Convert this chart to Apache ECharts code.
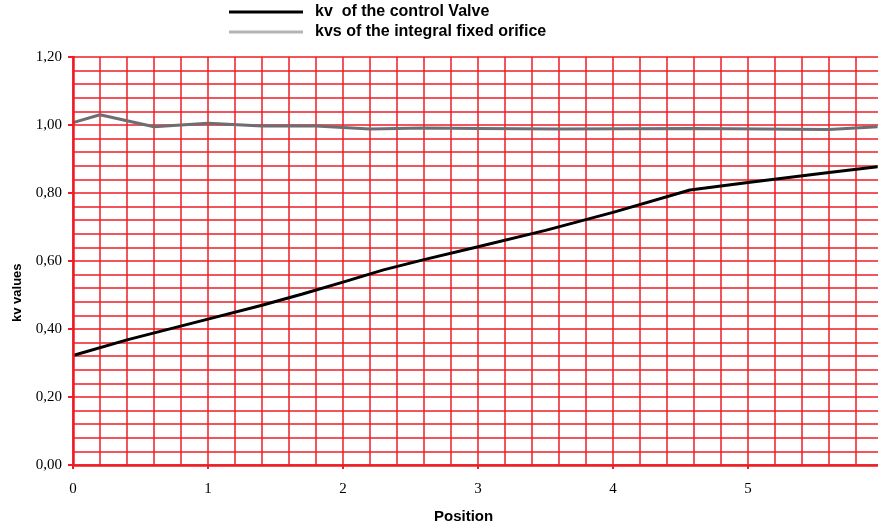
<!DOCTYPE html>
<html>
<head>
<meta charset="utf-8">
<script src="https://cdn.jsdelivr.net/npm/echarts@6/dist/echarts.min.js"></script>
<style>html,body{margin:0;padding:0;background:#fff}#c{width:878px;height:530px}</style>
</head>
<body>
<div id="c"></div>
<script>
const seriesNames = ['kv  of the control Valve', 'kvs of the integral fixed orifice'];
const kvX = [0, 0.4, 1.0, 1.4, 1.7, 2.0, 2.3, 2.6, 3.0, 3.5, 4.0, 4.57, 5.0, 5.6, 5.96];
const kvY = [0.322, 0.368, 0.429, 0.47, 0.503, 0.538, 0.574, 0.604, 0.642, 0.69, 0.743, 0.809, 0.831, 0.86, 0.877];
const kvsX = [0, 0.2, 0.6, 1.0, 1.4, 1.8, 2.2, 2.6, 3.0, 3.6, 4.6, 5.6, 5.96];
const kvsY = [1.007, 1.03, 0.995, 1.005, 0.997, 0.997, 0.988, 0.991, 0.99, 0.988, 0.99, 0.987, 0.995];
const xTicks = [0, 1, 2, 3, 4, 5];
const yTicks = [0, 0.2, 0.4, 0.6, 0.8, 1.0, 1.2];
const xTitle = 'Position';
const yTitle = 'kv values';

const red = '#ee1c25';
const serif = 'Liberation Serif, Times New Roman';
const sans = '"Liberation Sans", Arial';
const hidden = { axisLine: { show: false }, axisTick: { show: false }, axisLabel: { show: false } };

const chart = echarts.init(document.getElementById('c'));
chart.setOption({
  animation: false,
  grid: { left: 73, top: 57, width: 810, height: 408, outerBoundsMode: 'none', containLabel: false },
  legend: {
    orient: 'vertical', left: 229, top: 4, padding: 0,
    icon: 'rect', itemWidth: 74, itemHeight: 3, itemGap: 4,
    textStyle: { fontFamily: sans, fontWeight: 'bold', fontSize: 16, lineHeight: 16, color: '#000', padding: [0, 0, 0, 7] },
    data: [
      { name: seriesNames[0], itemStyle: { color: '#000' } },
      { name: seriesNames[1], itemStyle: { color: '#b4b4b4' } }
    ]
  },
  xAxis: [
    {
      type: 'value', min: 0, max: 6, interval: 1, position: 'bottom', z: 5,
      axisLine: { show: true, onZero: false, lineStyle: { color: red, width: 2.5 } },
      axisTick: { show: true, length: 4, lineStyle: { color: red, width: 2 } },
      axisLabel: {
        margin: 17, color: '#000', fontFamily: serif, fontSize: 15,
        formatter: v => xTicks.includes(v) ? String(v) : ''
      },
      splitLine: { show: false }
    },
    {
      type: 'value', min: 0, max: 6, interval: 0.2, position: 'top', ...hidden,
      splitLine: { show: true, lineStyle: { color: red, width: 1.5 } }
    }
  ],
  yAxis: [
    {
      type: 'value', min: 0, max: 1.2, interval: 0.2, position: 'left', z: 5,
      axisLine: { show: true, onZero: false, lineStyle: { color: red, width: 2.5 } },
      axisTick: { show: true, length: 5, lineStyle: { color: red, width: 2 } },
      axisLabel: {
        margin: 11, color: '#000', fontFamily: serif, fontSize: 15,
        formatter: v => yTicks.some(t => Math.abs(t - v) < 1e-9) ? v.toFixed(2).replace('.', ',') : ''
      },
      splitLine: { show: false }
    },
    {
      type: 'value', min: 0, max: 1.2, interval: 0.04, position: 'right', ...hidden,
      splitLine: { show: true, lineStyle: { color: red, width: 1.5 } }
    }
  ],
  graphic: [
    { type: 'text', left: 434, top: 509, style: { text: xTitle, font: 'bold 15px ' + sans, fill: '#000' } },
    { type: 'text', x: 11, y: 322, rotation: Math.PI / 2, style: { text: yTitle, font: 'bold 13px ' + sans, fill: '#000' } }
  ],
  series: [
    {
      name: seriesNames[0], type: 'line', symbol: 'none', z: 3, xAxisIndex: 0, yAxisIndex: 0,
      lineStyle: { color: '#000', width: 3 }, itemStyle: { color: '#000' },
      data: kvX.map((x, i) => [x, kvY[i]])
    },
    {
      name: seriesNames[1], type: 'line', symbol: 'none', z: 3, xAxisIndex: 0, yAxisIndex: 0,
      lineStyle: { color: '#6d6d72', width: 3 }, itemStyle: { color: '#b4b4b4' },
      data: kvsX.map((x, i) => [x, kvsY[i]])
    }
  ]
});
</script>
</body>
</html>
